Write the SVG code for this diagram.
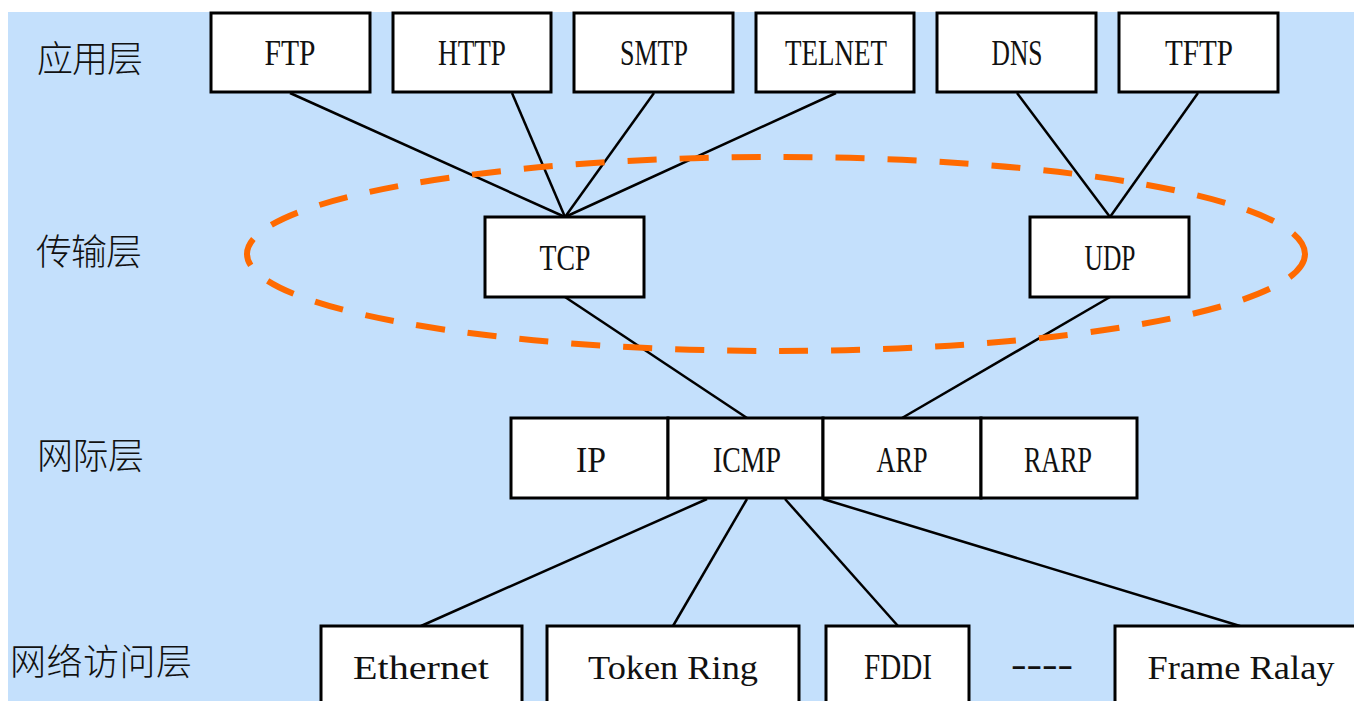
<svg xmlns="http://www.w3.org/2000/svg" width="1354" height="701" viewBox="0 0 1354 701">
  <style>
    .box { fill: #ffffff; stroke: #000000; stroke-width: 3; }
    .lbl { font-family: "Liberation Serif", "DejaVu Serif", serif; font-size: 35px; fill: #111111; text-anchor: middle; }
    .lo { font-size: 33px; }
    .layer { font-family: "Noto Sans CJK SC", sans-serif; font-size: 36px; font-weight: 300; fill: #111111; }
    .link { stroke: #000000; stroke-width: 2.5; fill: none; }
  </style>
  <rect x="0" y="0" width="1354" height="701" fill="#ffffff"/>
  <rect x="8" y="12" width="1346" height="689" fill="#c4e0fc"/>

  <!-- layer titles -->
  <g id="layer-labels">
    <text class="layer" x="37" y="72" textLength="106" lengthAdjust="spacing">应用层</text>
    <text class="layer" x="36" y="265" textLength="106" lengthAdjust="spacing">传输层</text>
    <text class="layer" x="37" y="469" textLength="107" lengthAdjust="spacing">网际层</text>
    <text class="layer" x="10" y="675" textLength="182" lengthAdjust="spacing">网络访问层</text>
  </g>

  <!-- connectors -->
  <g id="connectors">
    <line class="link" x1="290" y1="93" x2="565" y2="217"/>
    <line class="link" x1="512" y1="93" x2="565" y2="217"/>
    <line class="link" x1="654" y1="93" x2="565" y2="217"/>
    <line class="link" x1="836" y1="93" x2="565" y2="217"/>
    <line class="link" x1="1017" y1="93" x2="1110" y2="217"/>
    <line class="link" x1="1198" y1="93" x2="1110" y2="217"/>
    <line class="link" x1="565" y1="297" x2="747" y2="418"/>
    <line class="link" x1="1110" y1="297" x2="902" y2="418"/>
    <line class="link" x1="707" y1="499" x2="421" y2="626"/>
    <line class="link" x1="747" y1="499" x2="673" y2="626"/>
    <line class="link" x1="785" y1="499" x2="898" y2="626"/>
    <line class="link" x1="823" y1="499" x2="1240" y2="626"/>
  </g>

  <!-- application layer -->
  <g id="ftp"><rect class="box" x="211" y="13" width="159" height="79"/><text class="lbl" x="290" y="65" textLength="51" lengthAdjust="spacingAndGlyphs">FTP</text></g>
  <g id="http"><rect class="box" x="393" y="13" width="158" height="79"/><text class="lbl" x="472" y="65" textLength="68" lengthAdjust="spacingAndGlyphs">HTTP</text></g>
  <g id="smtp"><rect class="box" x="574" y="13" width="159" height="79"/><text class="lbl" x="654" y="65" textLength="68" lengthAdjust="spacingAndGlyphs">SMTP</text></g>
  <g id="telnet"><rect class="box" x="756" y="13" width="158" height="79"/><text class="lbl" x="836" y="65" textLength="102" lengthAdjust="spacingAndGlyphs">TELNET</text></g>
  <g id="dns"><rect class="box" x="937" y="13" width="159" height="79"/><text class="lbl" x="1017" y="65" textLength="51" lengthAdjust="spacingAndGlyphs">DNS</text></g>
  <g id="tftp"><rect class="box" x="1119" y="13" width="159" height="79"/><text class="lbl" x="1199" y="65" textLength="68" lengthAdjust="spacingAndGlyphs">TFTP</text></g>

  <!-- transport layer -->
  <g id="tcp"><rect class="box" x="485" y="217" width="159" height="80"/><text class="lbl" x="565" y="270" textLength="51" lengthAdjust="spacingAndGlyphs">TCP</text></g>
  <g id="udp"><rect class="box" x="1030" y="217" width="159" height="80"/><text class="lbl" x="1110" y="270" textLength="51" lengthAdjust="spacingAndGlyphs">UDP</text></g>

  <!-- internet layer -->
  <g id="ip"><rect class="box" x="511" y="418" width="157" height="80"/><text class="lbl" x="591" y="472" textLength="30" lengthAdjust="spacingAndGlyphs">IP</text></g>
  <g id="icmp"><rect class="box" x="668" y="418" width="155" height="80"/><text class="lbl" x="747" y="472" textLength="68" lengthAdjust="spacingAndGlyphs">ICMP</text></g>
  <g id="arp"><rect class="box" x="823" y="418" width="158" height="80"/><text class="lbl" x="902" y="472" textLength="51" lengthAdjust="spacingAndGlyphs">ARP</text></g>
  <g id="rarp"><rect class="box" x="981" y="418" width="156" height="80"/><text class="lbl" x="1058" y="472" textLength="68" lengthAdjust="spacingAndGlyphs">RARP</text></g>

  <!-- network access layer -->
  <g id="ethernet"><rect class="box" x="321" y="626" width="201" height="90"/><text class="lbl lo" x="421" y="679" textLength="136" lengthAdjust="spacingAndGlyphs">Ethernet</text></g>
  <g id="token-ring"><rect class="box" x="547" y="626" width="252" height="90"/><text class="lbl lo" x="673" y="679" textLength="170" lengthAdjust="spacingAndGlyphs">Token Ring</text></g>
  <g id="fddi"><rect class="box" x="826" y="626" width="143" height="90"/><text class="lbl" x="898" y="679" textLength="68" lengthAdjust="spacingAndGlyphs">FDDI</text></g>
  <g id="ellipsis"><text class="lbl" x="1042" y="676" textLength="62" lengthAdjust="spacingAndGlyphs">----</text></g>
  <g id="frame-relay"><rect class="box" x="1115" y="626" width="260" height="90"/><text class="lbl lo" x="1241" y="679" textLength="187" lengthAdjust="spacingAndGlyphs">Frame Ralay</text></g>

  <!-- transport-layer highlight -->
  <ellipse cx="776" cy="254" rx="529" ry="97" fill="none" stroke="#ff6a00" stroke-width="6" stroke-dasharray="29 23"/>
</svg>
